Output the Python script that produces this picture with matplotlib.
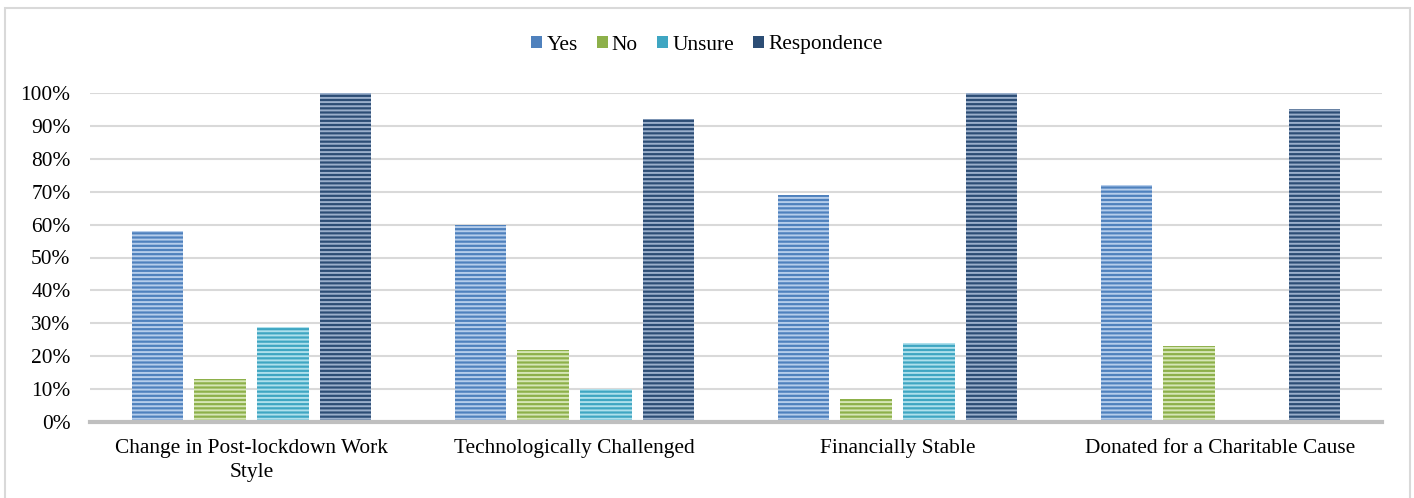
import numpy as np
import matplotlib
matplotlib.use("Agg")
import matplotlib.pyplot as plt
from matplotlib.patches import Rectangle, Patch

categories = ["Change in Post-lockdown Work\nStyle", "Technologically Challenged",
              "Financially Stable", "Donated for a Charitable Cause"]
series_names = ["Yes", "No", "Unsure", "Respondence"]
yes = [0.58, 0.60, 0.69, 0.72]
no = [0.13, 0.22, 0.07, 0.23]
unsure = [0.29, 0.10, 0.24, 0.0]
respondence = [1.00, 0.92, 1.00, 0.95]

face_colors = ["#4F81BD", "#8DB04A", "#3FA6C2", "#2C4D75"]
stripe_colors = ["#B5CDEB", "#D6E6B6", "#AEE0EC", "#9AAFCB"]

plt.rcParams['font.family'] = ['Liberation Serif', 'DejaVu Serif']
plt.rcParams['hatch.linewidth'] = 1.4

fig = plt.figure(figsize=(14.14, 4.98), dpi=100)
ax = fig.add_axes([90 / 1414, 1 - 422 / 498, 1292 / 1414, 329 / 498])

# chart area border
fig.patches.append(Rectangle((5 / 1414, -0.05), 1405 / 1414, 1 - 8 / 498 + 0.05,
                             transform=fig.transFigure, fill=False,
                             edgecolor="#D9D9D9", linewidth=1.5))

x = np.arange(len(categories))
width = 0.158
step = 0.195
all_values = [yes, no, unsure, respondence]
for i, vals in enumerate(all_values):
    pos = x + (i - 1.5) * step
    ax.bar(pos, vals, width, color=face_colors[i], edgecolor=stripe_colors[i],
           hatch="----", linewidth=0, zorder=3)

ax.set_xlim(-0.5, len(categories) - 0.5)
ax.set_ylim(0, 1.0)
ax.set_yticks(np.arange(0, 1.01, 0.1))
ax.set_yticklabels([f"{int(round(v * 100))}%" for v in np.arange(0, 1.01, 0.1)])
ax.set_xticks(x)
ax.set_xticklabels(categories, linespacing=1.4)
ax.tick_params(axis="both", length=0, labelsize=15.4, colors="#000000")
ax.tick_params(axis="x", pad=12)
ax.tick_params(axis="y", pad=14)

ax.yaxis.grid(True, color="#D9D9D9", linewidth=1.5, zorder=0)
ax.set_axisbelow(True)
for s in ["top", "right", "left"]:
    ax.spines[s].set_visible(False)
ax.spines["bottom"].set_color("#BFBFBF")
ax.spines["bottom"].set_linewidth(3)
ax.spines["bottom"].set_zorder(4)

handles = [Patch(facecolor=face_colors[i], edgecolor=stripe_colors[i], linewidth=0,
                 label=series_names[i]) for i in range(4)]
fig.legend(handles=handles, loc="center", bbox_to_anchor=(0.5, 1 - 45 / 498), ncol=4,
           frameon=False, fontsize=15.4, handlelength=0.5, handleheight=0.5,
           handletextpad=0.2, columnspacing=0.9)

fig.savefig("out.png", dpi=100)
